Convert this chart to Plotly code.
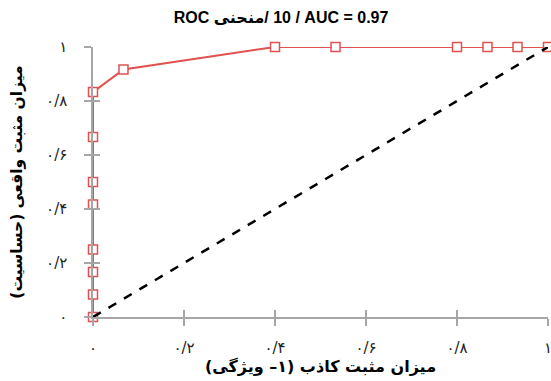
import plotly.graph_objects as go

# ROC data
fpr = [0, 0, 0, 0, 0, 0, 0, 0, 0.067, 0.4, 0.533, 0.8, 0.867, 0.933, 1.0]
tpr = [0, 0.083, 0.167, 0.25, 0.417, 0.5, 0.667, 0.833, 0.917, 1.0, 1.0, 1.0, 1.0, 1.0, 1.0]
diag_x = [0, 1]
diag_y = [0, 1]
tick_vals = [0, 0.2, 0.4, 0.6, 0.8, 1.0]
tick_text = ["۰", "۰/۲", "۰/۴", "۰/۶", "۰/۸", "۱"]

title_text = "ROC منحنی\u200e/ 10 / AUC = 0.97"
x_title = "\u202bمیزان مثبت کاذب (۱– ویژگی)\u202c"
y_title = "\u202bمیزان مثبت واقعی (حساسیت)\u202c"

RED = "#E0514F"
AXIS = "#A6A6A6"

fig = go.Figure()
fig.add_trace(go.Scatter(
    x=fpr, y=tpr, mode="lines+markers",
    line=dict(color=RED, width=2),
    marker=dict(symbol="square", size=9, color="white", line=dict(color=RED, width=1.5)),
    cliponaxis=False, showlegend=False, hoverinfo="skip"))
fig.add_trace(go.Scatter(
    x=diag_x, y=diag_y, mode="lines",
    line=dict(color="black", width=2.5, dash="dash"),
    cliponaxis=False, showlegend=False, hoverinfo="skip"))
# invisible trace to host the inner-tick overlay axes
fig.add_trace(go.Scatter(x=[0], y=[0], xaxis="x2", yaxis="y2", mode="markers",
                         marker=dict(opacity=0), showlegend=False, hoverinfo="skip"))

tick_font = dict(family="DejaVu Sans", size=15, color="#222222")
common = dict(range=[0, 1], tickvals=tick_vals, showgrid=False, zeroline=False,
              showline=True, linecolor=AXIS, linewidth=1.5, tickcolor=AXIS,
              tickwidth=1.5, fixedrange=True, automargin=False,
              ticklabeloverflow="allow")

fig.update_layout(
    width=551, height=381,
    margin=dict(l=93, r=3, t=47, b=64),
    paper_bgcolor="white", plot_bgcolor="white",
    title=dict(text=title_text, x=0.51, xanchor="center", y=0.955, yanchor="middle",
               automargin=False,
               font=dict(family="Liberation Sans, DejaVu Sans", size=16, color="black", weight="bold")),
    xaxis=dict(**common, ticktext=tick_text, ticks="outside", ticklen=7,
               ticklabelstandoff=9, tickfont=tick_font,
               title=dict(text=x_title, standoff=2,
                          font=dict(family="DejaVu Sans", size=16, color="black", weight="bold"))),
    yaxis=dict(**common, ticktext=tick_text, ticks="outside", ticklen=7,
               ticklabelstandoff=14, tickfont=tick_font,
               title=dict(text=y_title, standoff=20,
                          font=dict(family="DejaVu Sans", size=15.5, color="black", weight="bold"))),
    xaxis2=dict(range=[0, 1], tickvals=tick_vals, overlaying="x", anchor="y2",
                ticks="inside", ticklen=7, tickcolor=AXIS, tickwidth=1.5,
                showticklabels=False, showgrid=False, zeroline=False, showline=False,
                fixedrange=True),
    yaxis2=dict(range=[0, 1], tickvals=tick_vals, overlaying="y", anchor="x2",
                ticks="inside", ticklen=7, tickcolor=AXIS, tickwidth=1.5,
                showticklabels=False, showgrid=False, zeroline=False, showline=False,
                fixedrange=True),
)

fig.write_html("out.html", config={"displayModeBar": False},
               post_script="document.body.style.margin='0';")
